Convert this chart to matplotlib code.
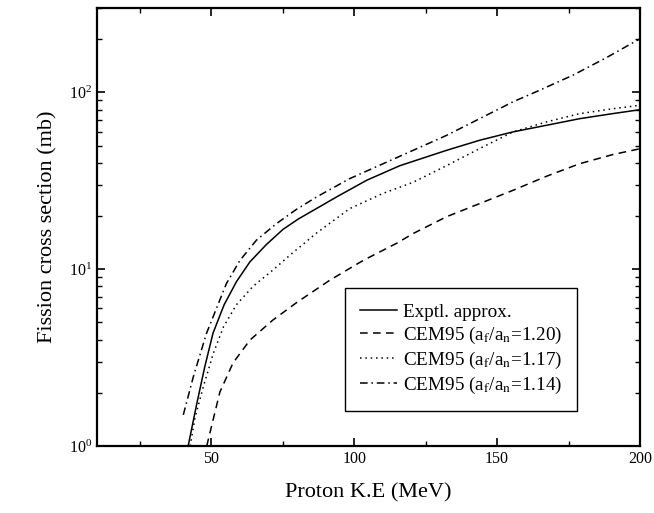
import numpy as np
import matplotlib
matplotlib.use("Agg")
import matplotlib.pyplot as plt
from matplotlib.ticker import LogLocator, LogFormatterMathtext, MultipleLocator, NullFormatter

plt.rcParams['font.family'] = ['Liberation Serif', 'DejaVu Serif']
plt.rcParams['mathtext.fontset'] = 'stix'

# proton kinetic energy (MeV) and fission cross sections (mb)
E_exp = [41.9, 44.8, 47.7, 50.6, 54.5, 58.8, 63.5, 69.3, 75.1, 80.4, 93.8, 104.3,
         116.0, 132.3, 143.9, 155.4, 167.2, 178.9, 190.4, 200.0]
sig_exp = [1.0, 1.7, 2.8, 4.35, 6.3, 8.5, 11.0, 13.8, 16.8, 19.2, 25.6, 31.8,
           38.5, 47.0, 53.6, 59.7, 65.1, 71.0, 75.8, 79.8]

E_120 = [48.4, 53.0, 57.6, 63.5, 71.5, 80.0, 91.5, 103.1, 114.8, 120.6, 132.3,
         143.9, 155.5, 167.2, 178.9, 190.5, 200.0]
sig_120 = [1.0, 2.02, 2.95, 3.97, 5.15, 6.5, 8.67, 11.2, 14.0, 15.9, 19.8,
           23.5, 27.9, 33.5, 39.5, 44.5, 48.0]

E_117 = [42.6, 44.3, 47.2, 50.7, 54.2, 58.8, 64.6, 71.6, 77.5, 86.8, 98.4, 110.0,
         120.6, 132.3, 143.9, 155.5, 167.2, 178.9, 190.5, 200.0]
sig_117 = [1.0, 1.45, 2.16, 3.34, 4.7, 6.3, 8.0, 9.9, 12.0, 16.0, 22.0, 26.8,
           31.0, 38.5, 48.1, 59.7, 68.0, 75.8, 80.8, 84.5]

E_114 = [40.2, 43.7, 48.3, 51.8, 55.3, 60.0, 65.8, 72.8, 79.8, 86.8, 98.4, 108.9,
         120.6, 132.3, 143.9, 155.5, 165.0, 176.5, 188.2, 200.0]
sig_114 = [1.5, 2.46, 4.33, 6.0, 8.3, 11.2, 14.6, 18.1, 21.8, 25.6, 32.5, 38.7,
           47.0, 57.1, 71.0, 88.3, 103.0, 125.0, 157.0, 201.0]

labels = ['Exptl. approx.',
          r'CEM95 (a$_\mathrm{f}$/a$_\mathrm{n}$=1.20)',
          r'CEM95 (a$_\mathrm{f}$/a$_\mathrm{n}$=1.17)',
          r'CEM95 (a$_\mathrm{f}$/a$_\mathrm{n}$=1.14)']

fig = plt.figure(figsize=(6.54, 5.13), dpi=100)
ax = fig.add_axes([0.1483, 0.1306, 0.8303, 0.8538])

lw = 1.1
ax.plot(E_exp, sig_exp, color='black', lw=lw, ls='-', label=labels[0])
ax.plot(E_120, sig_120, color='black', lw=lw, ls=(0, (5, 3.5)), label=labels[1])
ax.plot(E_117, sig_117, color='black', lw=lw, ls=(0, (1, 2.5)), label=labels[2])
ax.plot(E_114, sig_114, color='black', lw=lw, ls=(0, (5, 2.5, 1, 2.5)), label=labels[3])

ax.set_yscale('log')
ax.set_xlim(10, 200)
ax.set_ylim(1, 300)

ax.xaxis.set_major_locator(MultipleLocator(50))
ax.xaxis.set_minor_locator(MultipleLocator(25))
ax.yaxis.set_major_locator(LogLocator(base=10))
ax.yaxis.set_major_formatter(LogFormatterMathtext())
ax.yaxis.set_minor_locator(LogLocator(base=10, subs=np.arange(2, 10)))
ax.yaxis.set_minor_formatter(NullFormatter())

ax.tick_params(which='both', direction='in', top=True, right=True, labelsize=11.5)
ax.tick_params(which='major', length=6, width=1.2)
ax.tick_params(which='minor', length=3.5, width=1.0)
for sp in ax.spines.values():
    sp.set_linewidth(1.6)

ax.set_xlabel('Proton K.E (MeV)', fontsize=16, labelpad=12)
ax.set_ylabel('Fission cross section (mb)', fontsize=16, labelpad=8)

leg = ax.legend(loc='lower left', bbox_to_anchor=(0.457, 0.08), borderaxespad=0,
                fontsize=13.8, handlelength=1.9, handletextpad=0.3,
                labelspacing=0.2, fancybox=False, framealpha=1,
                edgecolor='black', borderpad=0.8)
leg.get_frame().set_linewidth(1.0)

fig.savefig('out.png', dpi=100)
